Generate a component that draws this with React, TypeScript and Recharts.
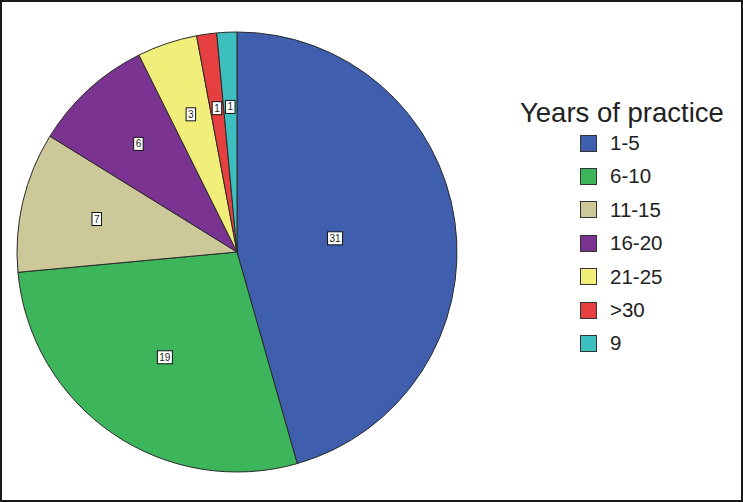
import React from "react";
import { PieChart, Pie, Cell, Legend } from "recharts";

// categories and counts
const categories = ["1-5", "6-10", "11-15", "16-20", "21-25", ">30", "9"];
const counts = [31, 19, 7, 6, 3, 1, 1];
const legendTitle = "Years of practice";

const COLORS = ["#3F5FAE", "#3DB55B", "#CCC89A", "#7B3391", "#F2EE7A", "#E5403F", "#3DBFBF"];

// label distance from centre, as a share of the radius (SPSS style placement)
const LABEL_R = [0.45, 0.58, 0.655, 0.665, 0.66, 0.66, 0.66];

const data = categories.map((name, i) => ({ name, value: counts[i] }));

const RAD = Math.PI / 180;

function renderLabel(props: any) {
  const { cx, cy, midAngle, outerRadius, index, value } = props;
  const r = outerRadius * LABEL_R[index];
  const x = cx + r * Math.cos(-midAngle * RAD);
  const y = cy + r * Math.sin(-midAngle * RAD);
  const txt = String(value);
  const w = txt.length * 5.5 + 4;
  const h = 13;
  return (
    <g key={`lbl-${index}`}>
      <rect x={x - w / 2} y={y - h / 2} width={w} height={h} fill="#fff" stroke="#111" strokeWidth={1} />
      <text
        x={x}
        y={y + 3.5}
        textAnchor="middle"
        fontSize={10}
        fontFamily="Liberation Sans, Arial, sans-serif"
        fill="#222"
      >
        {txt}
      </text>
    </g>
  );
}

function LegendBox() {
  return (
    <div style={{ position: "relative", width: 225, height: 280, fontFamily: "Liberation Sans, Arial, sans-serif" }}>
      <div style={{ position: "absolute", left: 5, top: 3, fontSize: 27.5, lineHeight: "30px", color: "#222", whiteSpace: "nowrap" }}>
        {legendTitle}
      </div>
      {categories.map((c, i) => (
        <div key={c} style={{ position: "absolute", left: 65, top: 38 + i * 33.4, height: 20, display: "flex", alignItems: "center" }}>
          <div style={{ width: 15, height: 15, background: COLORS[i], border: "1px solid #333" }} />
          <span style={{ marginLeft: 13, fontSize: 20.5, color: "#222", whiteSpace: "nowrap" }}>{c}</span>
        </div>
      ))}
    </div>
  );
}

export default function App() {
  return (
    <div style={{ position: "fixed", left: 0, top: 0, width: 743, height: 502, background: "#fff" }}>
      <PieChart width={743} height={502} margin={{ top: 0, right: 0, bottom: 0, left: 0 }}>
        <Pie
          data={data}
          dataKey="value"
          nameKey="name"
          cx={237}
          cy={252}
          outerRadius={220}
          startAngle={90}
          endAngle={-270}
          stroke="#2a2a2a"
          strokeWidth={1}
          labelLine={false}
          label={renderLabel}
          isAnimationActive={false}
        >
          {data.map((_, i) => (
            <Cell key={i} fill={COLORS[i]} />
          ))}
        </Pie>
        <Legend
          content={() => <LegendBox />}
          wrapperStyle={{ position: "absolute", left: 515, top: 95, width: 225, height: 280 }}
        />
      </PieChart>
      <div
        style={{
          position: "absolute",
          left: 0,
          top: 0,
          width: 743,
          height: 502,
          boxSizing: "border-box",
          border: "2px solid #1a1a1a",
          pointerEvents: "none",
        }}
      />
    </div>
  );
}
